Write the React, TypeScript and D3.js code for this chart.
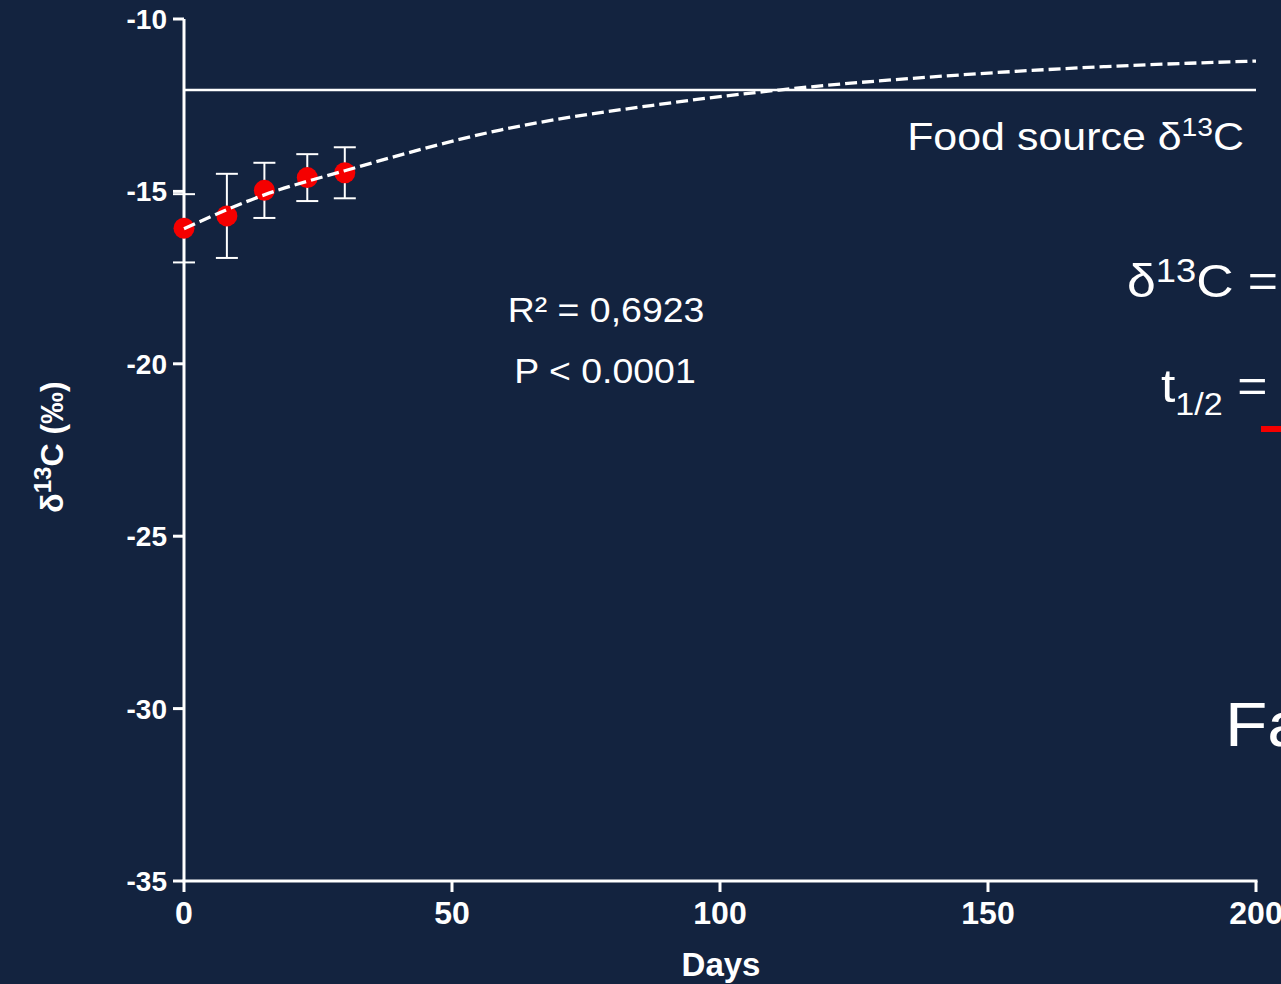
import React from 'react';
import * as d3 from 'd3';

const days = [0, 8, 15, 23, 30];
const meanD13C = [-16.07, -15.71, -14.97, -14.6, -14.46];
const sdD13C = [0.99, 1.22, 0.8, 0.68, 0.74];
const fitDays = [0, 15, 30, 59, 89, 111, 145, 172, 200];
const fitD13C = [-16.08, -15.1, -14.4, -13.22, -12.47, -12.06, -11.62, -11.38, -11.22];
const foodSource = -12.06;
const xTicks = [0, 50, 100, 150, 200];
const yTicks = [-10, -15, -20, -25, -30, -35];

const W = 1281;
const H = 984;
const BG = '#13233f';
const FONT = '"Liberation Sans", Arial, sans-serif';
const SX = 1.1;

export default function App() {
  const x = d3.scaleLinear().domain([0, 200]).range([184, 1256]);
  const y = d3.scaleLinear().domain([-35, -10]).range([881, 19]);
  const fitLine = d3
    .line<number>()
    .x((_, i) => x(fitDays[i]))
    .y((d) => y(d))
    .curve(d3.curveMonotoneX);
  const x0 = x(0);
  const yB = y(-35);

  return (
    <svg
      width={W}
      height={H}
      style={{ position: 'absolute', left: 0, top: 0, display: 'block' }}
      fontFamily={FONT}
    >
      <rect x={0} y={0} width={W} height={H} fill={BG} />

      {/* food source line */}
      <line x1={x0} x2={x(200)} y1={y(foodSource)} y2={y(foodSource)} stroke="#fff" strokeWidth={2.5} />

      {/* axes */}
      <line x1={x0} x2={x0} y1={y(-10)} y2={yB} stroke="#fff" strokeWidth={3} />
      <line x1={x0 - 1.5} x2={x(200) + 1.5} y1={yB} y2={yB} stroke="#fff" strokeWidth={3} />
      {yTicks.map((t) => (
        <g key={'y' + t}>
          <line x1={x0 - 11} x2={x0} y1={y(t)} y2={y(t)} stroke="#fff" strokeWidth={3} />
          <text
            x={167}
            y={y(t)}
            dy="0.36em"
            textAnchor="end"
            fill="#fff"
            fontWeight="bold"
            fontSize={28}
          >
            {t}
          </text>
        </g>
      ))}
      {xTicks.map((t) => (
        <g key={'x' + t}>
          <line x1={x(t)} x2={x(t)} y1={yB} y2={yB + 11} stroke="#fff" strokeWidth={3} />
          <text x={x(t)} y={924} textAnchor="middle" fill="#fff" fontWeight="bold" fontSize={32}>
            {t}
          </text>
        </g>
      ))}
      <text x={721} y={976} textAnchor="middle" fill="#fff" fontWeight="bold" fontSize={33}>
        Days
      </text>
      <text
        transform="translate(63,447) rotate(-90)"
        textAnchor="middle"
        fill="#fff"
        fontWeight="bold"
        fontSize={32}
      >
        δ<tspan dy={-12} fontSize={24}>13</tspan>
        <tspan dy={12}>C (‰)</tspan>
      </text>

      {/* error bars */}
      {days.map((d, i) => {
        const cx = x(d);
        const top = y(meanD13C[i] + sdD13C[i]);
        const bot = y(meanD13C[i] - sdD13C[i]);
        return (
          <g key={'e' + i} stroke="#fff" strokeWidth={2}>
            <line x1={cx} x2={cx} y1={top} y2={bot} />
            <line x1={cx - 11} x2={cx + 11} y1={top} y2={top} />
            <line x1={cx - 11} x2={cx + 11} y1={bot} y2={bot} />
          </g>
        );
      })}
      {/* points */}
      {days.map((d, i) => (
        <circle key={'p' + i} cx={x(d)} cy={y(meanD13C[i])} r={10.5} fill="#f50000" />
      ))}

      {/* fitted curve */}
      <path
        d={fitLine(fitD13C) || ''}
        fill="none"
        stroke="#fff"
        strokeWidth={3.3}
        strokeDasharray="12,5"
      />

      {/* annotations */}
      <text transform="translate(1244,150) scale(1.13,1)" textAnchor="end" fill="#fff" fontSize={38}>
        Food source δ<tspan dy={-14} fontSize={25}>13</tspan>
        <tspan dy={14}>C</tspan>
      </text>
      <text transform="translate(606,322) scale(1.07,1)" textAnchor="middle" fill="#fff" fontSize={35}>
        R² = 0,6923
      </text>
      <text transform="translate(605,383) scale(1.07,1)" textAnchor="middle" fill="#fff" fontSize={35}>
        P &lt; 0.0001
      </text>
      <text transform={`translate(1127,297) scale(${SX},1)`} fill="#fff" fontSize={47}>
        δ<tspan dy={-15} fontSize={33}>13</tspan>
        <tspan dy={15}>C =</tspan>
      </text>
      <text transform={`translate(1161,402) scale(${SX},1)`} fill="#fff" fontSize={47}>
        t<tspan dy={13} fontSize={31}>1/2</tspan>
        <tspan dy={-13}> =</tspan>
      </text>
      <rect x={1261} y={426} width={20} height={6} fill="#f50000" />
      <text transform={`translate(1225,746) scale(${SX},1)`} fill="#fff" fontSize={63}>
        Fa
      </text>
    </svg>
  );
}
